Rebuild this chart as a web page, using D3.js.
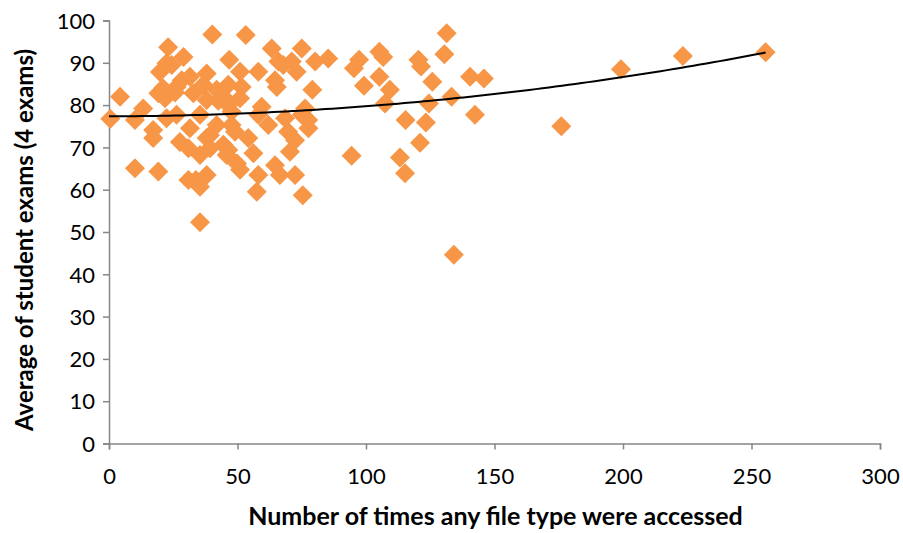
<!DOCTYPE html>
<html>
<head>
<meta charset="utf-8">
<script src="https://cdn.jsdelivr.net/npm/d3@7"></script>
<style>
  html, body { margin: 0; padding: 0; background: #fff; }
  svg { display: block; }
  text { font-family: Lato, "Open Sans", sans-serif; fill: #000; }
</style>
</head>
<body>
<svg id="chart" width="903" height="533"></svg>
<script>
const xTicks = [0, 50, 100, 150, 200, 250, 300];
const yTicks = [0, 10, 20, 30, 40, 50, 60, 70, 80, 90, 100];
const xTitle = "Number of times any file type were accessed";
const yTitle = "Average of student exams (4 exams)";

// accesses (x) and exam average (y)
const accesses = [
  0.5, 4.3, 10.1, 10.1, 13.3, 17.2, 17.2, 19.2, 19.2, 19.8,
  21.8, 22.4, 23, 24.4, 22.4, 26.3, 26.3, 27.6, 28.3, 29,
  30.9, 30.9, 31.5, 31.5, 32.8, 33.8, 35.4, 35.4, 35.4, 35.4,
  36.7, 38, 38, 38, 38, 39.3, 39.3, 40.2, 41.9, 41.9,
  44.5, 44.5, 45.8, 46.8, 46.4, 46.4, 46.4, 47.7, 47.7, 49,
  51, 51.6, 51, 51, 53.2, 54.2, 56.2, 57.5, 58.1, 58.1,
  58.1, 59.4, 62, 63.3, 64.6, 64.6, 65.3, 65.9, 66.5, 67.8,
  68.5, 69.7, 70.4, 71.1, 72.4, 73, 75, 75, 75.4, 76.3,
  77.6, 79.1, 80.2, 85.3, 72.4, 77.5, 49.8, 21, 42.5, 25.7,
  94.4, 95.3, 97.3, 99.2, 105.2, 106.7, 105.2, 107.4, 109.3, 113.2,
  115.4, 115.2, 120.4, 121.4, 121, 123.3, 124.5, 125.8, 130.5, 131.4,
  133.3, 134.2, 140.5, 142.4, 145.9, 176, 199.2, 223.3, 255.5
];
const examAvg = [
  76.8, 82, 76.5, 65.1, 79.2, 74.1, 72.2, 64.3, 82.8, 87.8,
  81.6, 89.9, 93.7, 89.5, 76.9, 84.3, 77.7, 71.3, 85.9, 91.4,
  69.8, 62.3, 86.7, 74.5, 82.8, 62.3, 60.7, 52.3, 68.2, 77.7,
  84.8, 87.5, 81.2, 72.2, 63.5, 69.8, 72.9, 96.7, 83.6, 75.3,
  82, 70.6, 68.2, 90.7, 84.8, 80, 69.4, 75.3, 78.4, 73.7,
  87.9, 84.3, 81.6, 64.7, 96.6, 72.2, 68.6, 59.5, 63.5, 87.9,
  77.7, 79.6, 75.3, 93.4, 85.9, 65.8, 84.3, 90.3, 63.5, 89.5,
  76.9, 73.7, 69, 90.3, 63.5, 87.9, 93.4, 77.7, 58.7, 79.2,
  74.5, 83.6, 90.3, 91, 71.7, 76.5, 66.2, 84, 81, 83,
  68, 88.7, 90.7, 84.6, 92.6, 91.4, 86.7, 80.4, 83.6, 67.6,
  76.5, 63.9, 90.7, 89.1, 71.1, 75.9, 80.4, 85.5, 92, 97,
  82, 44.6, 86.7, 77.7, 86.3, 75, 88.5, 91.6, 92.5
];

const points = accesses.map((x, i) => ({ x, y: examAvg[i] }));

const svg = d3.select("#chart");
const margin = { left: 109, right: 23, top: 20.5, bottom: 89.5 };
const W = 903, H = 533;

const x = d3.scaleLinear().domain([0, 300]).range([margin.left, W - margin.right]);
const y = d3.scaleLinear().domain([0, 100]).range([H - margin.bottom, margin.top]);

const axisColor = "#868686";

// Y axis
const yAxis = svg.append("g")
  .attr("transform", `translate(${x(0)},0)`)
  .call(d3.axisLeft(y).tickValues(yTicks).tickSize(6).tickPadding(8));
// X axis
const xAxis = svg.append("g")
  .attr("transform", `translate(0,${y(0)})`)
  .call(d3.axisBottom(x).tickValues(xTicks).tickSize(6).tickPadding(19));

[xAxis, yAxis].forEach(g => {
  g.select(".domain").attr("stroke", axisColor).attr("stroke-width", 1.5);
  g.selectAll(".tick line").attr("stroke", axisColor).attr("stroke-width", 1.5);
  g.selectAll(".tick text").attr("font-size", 22).attr("font-family", "Lato, 'Open Sans', sans-serif").attr("fill", "#000");
});
yAxis.selectAll(".tick text").attr("dy", "0.35em");

// points (diamonds)
const r = 10;
const diamond = `M0,${-r}L${r},0L0,${r}L${-r},0Z`;
svg.append("g").selectAll("path")
  .data(points)
  .join("path")
  .attr("d", diamond)
  .attr("transform", d => `translate(${x(d.x)},${y(d.y)})`)
  .attr("fill", "#F79646");

// polynomial (order 2) trendline fitted by least squares
function quadFit(pts) {
  let S = [0,0,0,0,0], T = [0,0,0];
  pts.forEach(p => {
    let xp = 1;
    for (let k = 0; k < 5; k++) { S[k] += xp; if (k < 3) T[k] += xp * p.y; xp *= p.x; }
  });
  const A = [[S[0],S[1],S[2],T[0]],[S[1],S[2],S[3],T[1]],[S[2],S[3],S[4],T[2]]];
  for (let i = 0; i < 3; i++) {
    for (let j = i + 1; j < 3; j++) {
      const f = A[j][i] / A[i][i];
      for (let k = i; k < 4; k++) A[j][k] -= f * A[i][k];
    }
  }
  const c = [0,0,0];
  for (let i = 2; i >= 0; i--) {
    let s = A[i][3];
    for (let k = i + 1; k < 3; k++) s -= A[i][k] * c[k];
    c[i] = s / A[i][i];
  }
  return c;
}
const coef = quadFit(points);
const xMax = d3.max(accesses);
const trend = d3.range(0, 101).map(i => {
  const xv = xMax * i / 100;
  return { x: xv, y: coef[0] + coef[1] * xv + coef[2] * xv * xv };
});
svg.append("path")
  .datum(trend)
  .attr("fill", "none")
  .attr("stroke", "#000")
  .attr("stroke-width", 2)
  .attr("d", d3.line().x(d => x(d.x)).y(d => y(d.y)));

// axis titles
svg.append("text")
  .attr("x", (x(0) + x(300)) / 2 + 1)
  .attr("y", 525)
  .attr("text-anchor", "middle")
  .attr("font-size", 25)
  .attr("font-weight", "bold")
  .text(xTitle);

svg.append("text")
  .attr("transform", `translate(25,${(y(0) + y(100)) / 2 + 8}) rotate(-90)`)
  .attr("text-anchor", "middle")
  .attr("dy", "0.35em")
  .attr("font-size", 24)
  .attr("font-weight", "bold")
  .text(yTitle);
</script>
</body>
</html>
